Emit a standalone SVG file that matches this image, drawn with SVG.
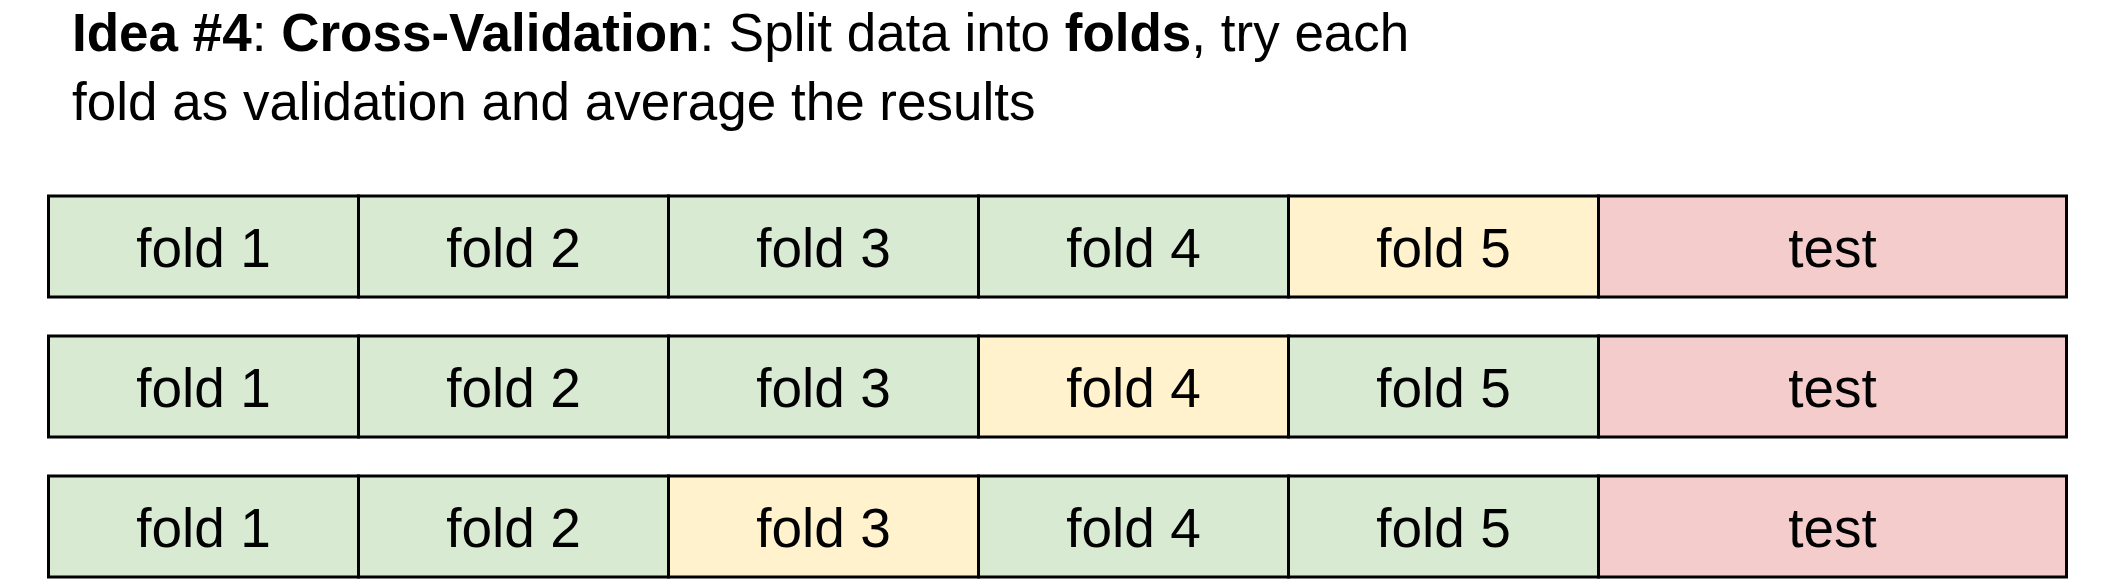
<svg xmlns="http://www.w3.org/2000/svg" width="2124" height="586" viewBox="0 0 2124 586">
<style>
.t{font-family:"Liberation Sans",Arial,sans-serif;font-size:53px;fill:#000}
.b{font-weight:bold}
.c{stroke:#000;stroke-width:3}
.g{fill:#D9EAD3}
.y{fill:#FFF2CC}
.r{fill:#F4CCCC}
.l{font-family:"Liberation Sans",Arial,sans-serif;font-size:55px;fill:#000;text-anchor:middle}
</style>
<rect width="2124" height="586" fill="#fff"/>
<g id="title">
<text class="t" x="72" y="51"><tspan class="b">Idea #4</tspan>: <tspan class="b">Cross-Validation</tspan>: Split data into <tspan class="b">folds</tspan>, try each</text>
<text class="t" x="72" y="120">fold as validation and average the results</text>
</g>
<g id="row1">
<g id="r1f1"><rect class="c g" x="48.5" y="196" width="310" height="101"/><text class="l" x="203.5" y="267">fold 1</text></g>
<g id="r1f2"><rect class="c g" x="358.5" y="196" width="310" height="101"/><text class="l" x="513.5" y="267">fold 2</text></g>
<g id="r1f3"><rect class="c g" x="668.5" y="196" width="310" height="101"/><text class="l" x="823.5" y="267">fold 3</text></g>
<g id="r1f4"><rect class="c g" x="978.5" y="196" width="310" height="101"/><text class="l" x="1133.5" y="267">fold 4</text></g>
<g id="r1f5"><rect class="c y" x="1288.5" y="196" width="310" height="101"/><text class="l" x="1443.5" y="267">fold 5</text></g>
<g id="r1test"><rect class="c r" x="1598.5" y="196" width="468" height="101"/><text class="l" x="1832.5" y="267">test</text></g>
</g>
<g id="row2">
<g id="r2f1"><rect class="c g" x="48.5" y="336" width="310" height="101"/><text class="l" x="203.5" y="407">fold 1</text></g>
<g id="r2f2"><rect class="c g" x="358.5" y="336" width="310" height="101"/><text class="l" x="513.5" y="407">fold 2</text></g>
<g id="r2f3"><rect class="c g" x="668.5" y="336" width="310" height="101"/><text class="l" x="823.5" y="407">fold 3</text></g>
<g id="r2f4"><rect class="c y" x="978.5" y="336" width="310" height="101"/><text class="l" x="1133.5" y="407">fold 4</text></g>
<g id="r2f5"><rect class="c g" x="1288.5" y="336" width="310" height="101"/><text class="l" x="1443.5" y="407">fold 5</text></g>
<g id="r2test"><rect class="c r" x="1598.5" y="336" width="468" height="101"/><text class="l" x="1832.5" y="407">test</text></g>
</g>
<g id="row3">
<g id="r3f1"><rect class="c g" x="48.5" y="476" width="310" height="101"/><text class="l" x="203.5" y="547">fold 1</text></g>
<g id="r3f2"><rect class="c g" x="358.5" y="476" width="310" height="101"/><text class="l" x="513.5" y="547">fold 2</text></g>
<g id="r3f3"><rect class="c y" x="668.5" y="476" width="310" height="101"/><text class="l" x="823.5" y="547">fold 3</text></g>
<g id="r3f4"><rect class="c g" x="978.5" y="476" width="310" height="101"/><text class="l" x="1133.5" y="547">fold 4</text></g>
<g id="r3f5"><rect class="c g" x="1288.5" y="476" width="310" height="101"/><text class="l" x="1443.5" y="547">fold 5</text></g>
<g id="r3test"><rect class="c r" x="1598.5" y="476" width="468" height="101"/><text class="l" x="1832.5" y="547">test</text></g>
</g>
</svg>
